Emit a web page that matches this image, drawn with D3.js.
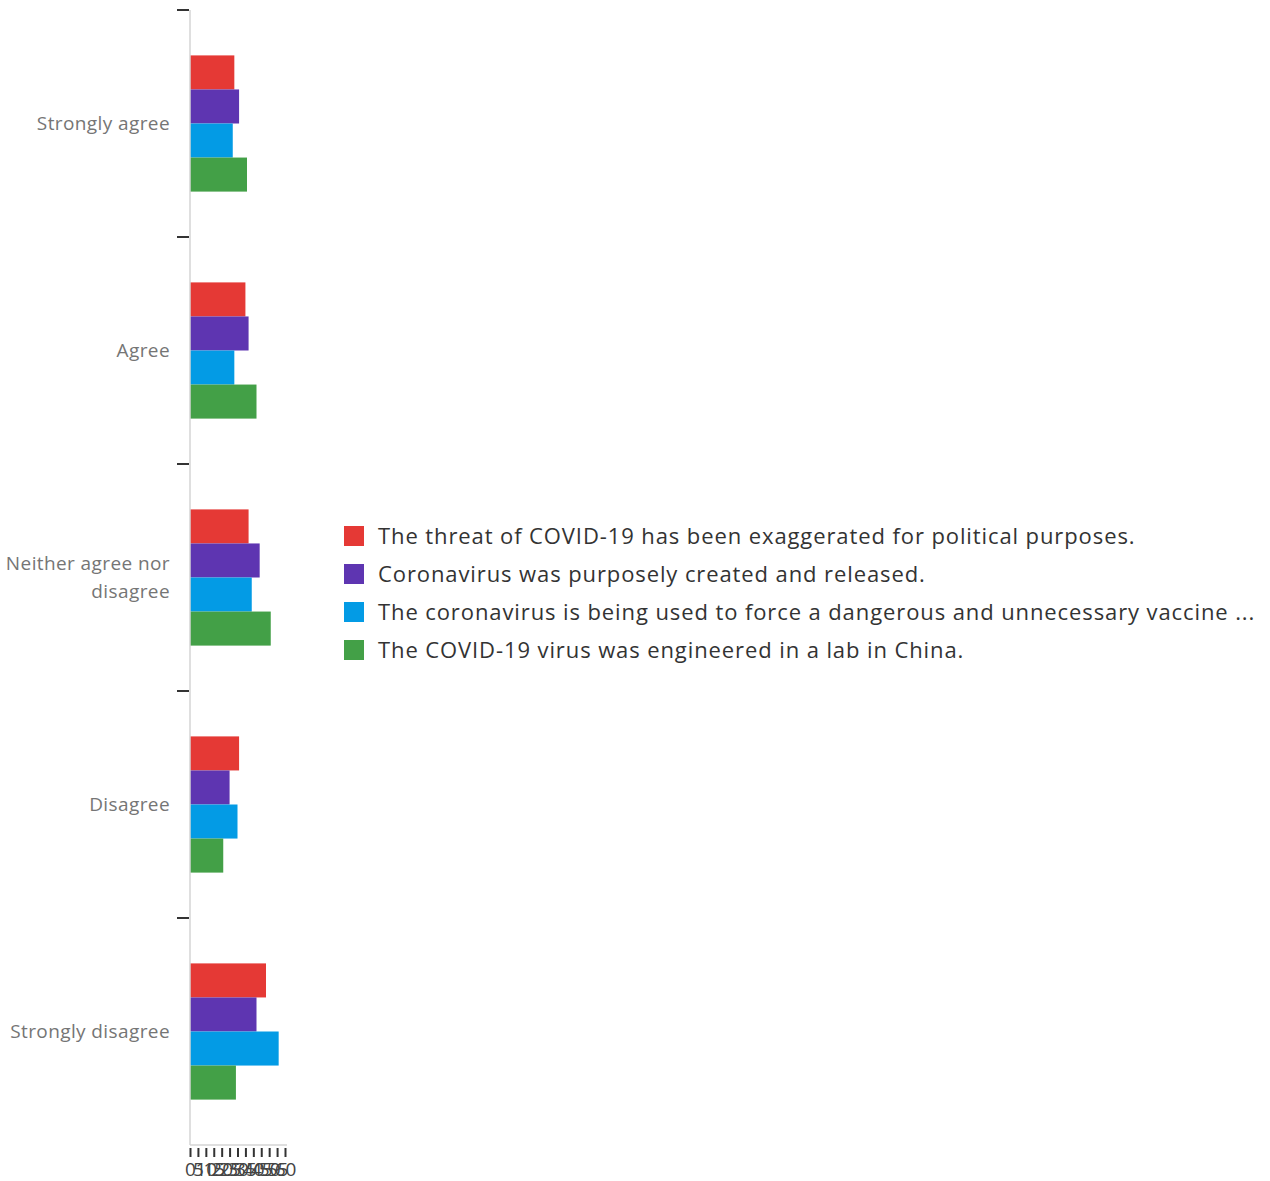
<!DOCTYPE html>
<html>
<head>
<meta charset="utf-8">
<script src="https://cdn.jsdelivr.net/npm/d3@7"></script>
<style>
  body { margin: 0; background: #fff; }
  svg text { font-family: "Open Sans", sans-serif; }
</style>
</head>
<body>
<div id="chart"></div>
<script>
// answer categories (y axis)
var categories = ["Strongly agree", "Agree", "Neither agree nor disagree", "Disagree", "Strongly disagree"];
// statements (legend)
var series = [
    "The threat of COVID-19 has been exaggerated for political purposes.",
    "Coronavirus was purposely created and released.",
    "The coronavirus is being used to force a dangerous and unnecessary vaccine ...",
    "The COVID-19 virus was engineered in a lab in China."
];
// counts per statement, in the order of categories
var threatValues = [28, 35, 37, 31, 48];
var createdValues = [31, 37, 44, 25, 42];
var vaccineValues = [27, 28, 39, 30, 56];
var labValues = [36, 42, 51, 21, 29];
var xTicks = [0, 5, 10, 15, 20, 25, 30, 35, 40, 45, 50, 55, 60];

var colors = ["#e53935", "#5e35b1", "#039be5", "#43a047"];
var allValues = [threatValues, createdValues, vaccineValues, labValues];

var chartWidth = 1270, chartHeight = 1181;
var plotLeft = 190, plotTop = 10, plotBottom = 1145;

var svg = d3.select("#chart")
    .append("svg")
    .attr("width", chartWidth)
    .attr("height", chartHeight);

var x = d3.scaleLinear()
    .domain([0, 60])
    .range([plotLeft, 285]);

var y = d3.scaleBand()
    .domain(categories)
    .range([plotTop, plotBottom])
    .padding(0);

var inset = y.bandwidth() * 0.2;
var ySub = d3.scaleBand()
    .domain(series)
    .range([inset, y.bandwidth() - inset])
    .padding(0);

var color = d3.scaleOrdinal()
    .domain(series)
    .range(colors);

// flatten to rows
var rows = [];
categories.forEach(function (c, i) {
    series.forEach(function (s, j) {
        rows.push({ cat: c, series: s, value: allValues[j][i] });
    });
});

// bars
svg.append("g")
    .selectAll("rect")
    .data(rows)
    .enter()
    .append("rect")
    .attr("x", x(0))
    .attr("y", function (d) { return y(d.cat) + ySub(d.series); })
    .attr("width", function (d) { return x(d.value) - x(0); })
    .attr("height", ySub.bandwidth())
    .style("fill", function (d) { return color(d.series); });

// y axis line
svg.append("line")
    .attr("x1", plotLeft).attr("x2", plotLeft)
    .attr("y1", plotTop).attr("y2", plotBottom)
    .attr("stroke", "#d4d4d4")
    .attr("stroke-width", 1.5);

// y ticks at top of each band
svg.append("g")
    .selectAll("line")
    .data(categories)
    .enter()
    .append("line")
    .attr("x1", 177).attr("x2", plotLeft - 1)
    .attr("y1", function (d) { return y(d); })
    .attr("y2", function (d) { return y(d); })
    .attr("stroke", "#333")
    .attr("stroke-width", 2);

// y labels
var labelLines = {
    "Neither agree nor disagree": ["Neither agree nor", "disagree"]
};
svg.append("g")
    .selectAll("text")
    .data(categories)
    .enter()
    .append("text")
    .attr("x", 170)
    .attr("text-anchor", "end")
    .style("font-size", "19px")
    .style("letter-spacing", "0.4px")
    .style("fill", "#757575")
    .each(function (d) {
        var lines = labelLines[d] || [d];
        var t = d3.select(this);
        var cy = y(d) + y.bandwidth() / 2;
        lines.forEach(function (l, i) {
            t.append("tspan")
                .attr("x", 170)
                .attr("y", cy + (i - (lines.length - 1) / 2) * 28)
                .attr("dy", "0.35em")
                .text(l);
        });
    });

// x axis
var xAxis = svg.append("g")
    .attr("transform", "translate(0," + plotBottom + ")")
    .call(d3.axisBottom(x).tickValues(xTicks).tickSize(12).tickSizeOuter(0));
xAxis.select(".domain")
    .attr("stroke", "#d4d4d4")
    .attr("stroke-width", 1.5)
    .attr("d", "M" + plotLeft + ",0H287");
xAxis.selectAll(".tick line")
    .attr("stroke", "#333")
    .attr("stroke-width", 2)
    .attr("y1", 3);
xAxis.selectAll(".tick text")
    .attr("y", 18)
    .style("font-size", "19px")
    .style("font-family", "Open Sans, sans-serif")
    .style("fill", "#444");

// legend
var legend = svg.append("g")
    .selectAll("g")
    .data(series)
    .enter()
    .append("g")
    .attr("transform", function (d, i) { return "translate(344," + (536 + i * 38) + ")"; });

legend.append("rect")
    .attr("x", 0)
    .attr("y", -10)
    .attr("width", 20)
    .attr("height", 20)
    .style("fill", function (d) { return color(d); });

legend.append("text")
    .attr("x", 34)
    .attr("y", 0)
    .attr("dy", "0.35em")
    .style("font-size", "22px")
    .style("letter-spacing", "0.9px")
    .style("fill", "#333")
    .text(function (d) { return d; });
</script>
</body>
</html>
